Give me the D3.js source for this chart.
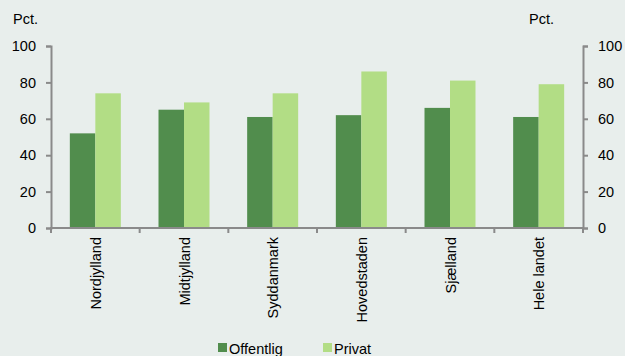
<!DOCTYPE html>
<html><head><meta charset="utf-8">
<script src="https://cdn.jsdelivr.net/npm/d3@7"></script>
<style>
body{margin:0;background:#e8eeec;}
svg{display:block;font-family:"Liberation Sans",Arial,sans-serif;}
</style></head>
<body>
<svg id="c" width="625" height="356"></svg>
<script>
const categories = ["Nordjylland","Midtjylland","Syddanmark","Hovedstaden","Sjælland","Hele landet"];
const seriesNames = ["Offentlig","Privat"];
const offentlig = [52,65,61,62,66,61];
const privat = [74,69,74,86,81,79];
const yTicks = [0,20,40,60,80,100];
const colors = ["#518d4d","#b2dd85"];

const FS = 14.5;
const svg = d3.select("#c");
svg.append("rect").attr("width",625).attr("height",356).attr("fill","#e8eeec");
const L=51, R=583, T=46, B=228;
const x = d3.scaleBand().domain(categories).range([L,R]).paddingInner(0).paddingOuter(0);
const y = d3.scaleLinear().domain([0,100]).range([B,T]);
const bw = 25.5;
const data = [offentlig, privat];

data.forEach((vals,si)=>{
  svg.append("g").selectAll("rect").data(categories).join("rect")
    .attr("x",d=>x(d)+x.bandwidth()/2 - bw + si*bw)
    .attr("width",bw)
    .attr("y",(d,i)=>y(vals[i]))
    .attr("height",(d,i)=>B-y(vals[i]))
    .attr("fill",colors[si]);
});

const axCol="#8a8a8a";
const yl = svg.append("g").attr("transform",`translate(${L},0)`).call(d3.axisLeft(y).tickValues(yTicks).tickSize(5).tickPadding(10));
const yr = svg.append("g").attr("transform",`translate(${R},0)`).call(d3.axisRight(y).tickValues(yTicks).tickSize(5).tickPadding(10));
[yl,yr].forEach(g=>{
  g.select(".domain").attr("stroke",axCol).attr("stroke-width",2);
  g.selectAll(".tick line").attr("stroke",axCol).attr("stroke-width",2);
  g.selectAll("text").attr("font-size",FS).attr("fill","#000").attr("font-family","Liberation Sans, Arial, sans-serif");
});

// x axis
const xa = svg.append("g");
xa.append("line").attr("x1",L-1).attr("x2",R+1).attr("y1",B).attr("y2",B).attr("stroke",axCol).attr("stroke-width",2);
const bounds = categories.map(c=>x(c)).concat([R]);
xa.selectAll("line.t").data(bounds).join("line").attr("class","t")
  .attr("x1",d=>d).attr("x2",d=>d).attr("y1",B).attr("y2",B+5).attr("stroke",axCol).attr("stroke-width",2);
xa.selectAll("text").data(categories).join("text")
  .attr("transform",d=>`translate(${x(d)+x.bandwidth()/2+5.5},${B+9}) rotate(-90)`)
  .attr("text-anchor","end").attr("font-size",FS).text(d=>d);

svg.append("text").attr("x",13).attr("y",24).attr("font-size",FS).text("Pct.");
svg.append("text").attr("x",529).attr("y",24).attr("font-size",FS).text("Pct.");

// legend
const lg = svg.append("g");
const lx=[218,323];
seriesNames.forEach((n,i)=>{
  lg.append("rect").attr("x",lx[i]).attr("y",343).attr("width",9).attr("height",9).attr("fill",colors[i]);
  lg.append("text").attr("x",lx[i]+11).attr("y",354).attr("font-size",FS).text(n);
});
</script>
</body></html>
